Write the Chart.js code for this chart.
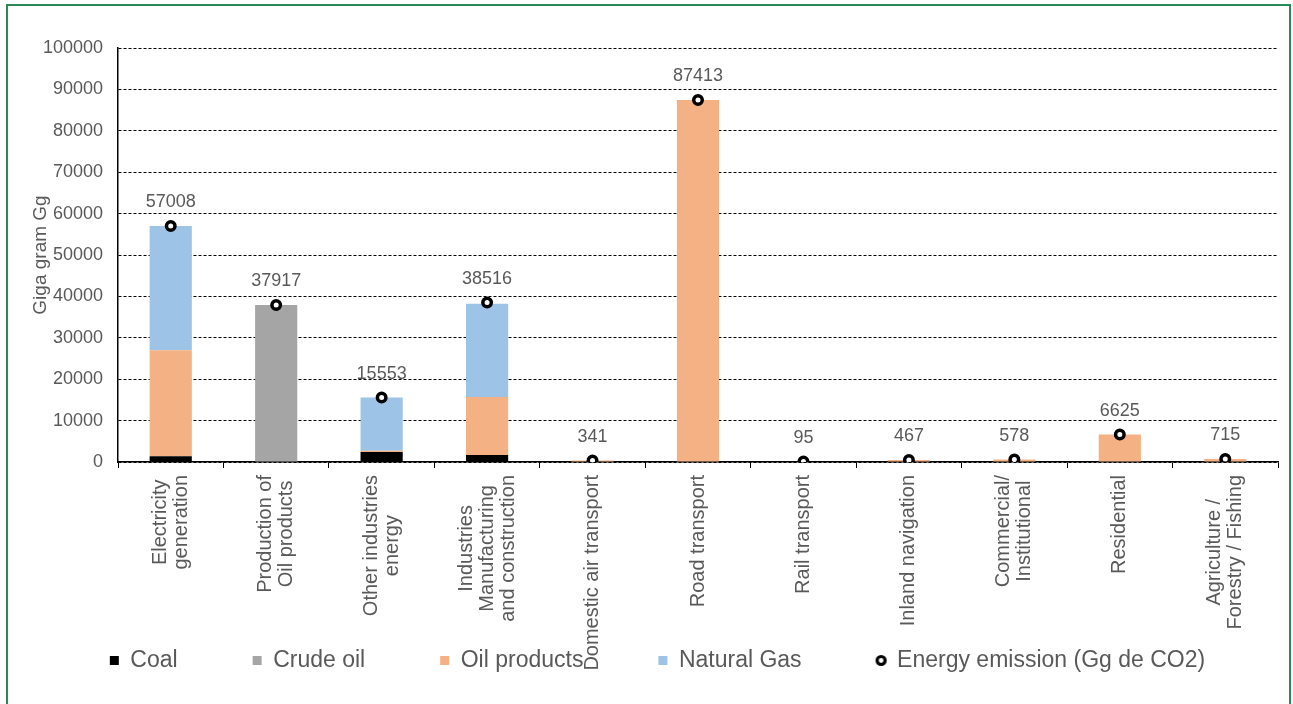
<!DOCTYPE html>
<html lang="en">
<head>
    <meta charset="UTF-8">
    <title>Energy emission by sector</title>
    <script src="https://cdn.jsdelivr.net/npm/chart.js"></script>
    <style>
        body {
            margin: 0;
            background: #ffffff;
            font-family: "Liberation Sans", Arial, sans-serif;
        }

        .wrap {
            position: relative;
            width: 1293px;
            height: 704px;
            overflow: hidden;
        }

        .frame {
            position: absolute;
            left: 6px;
            top: 4px;
            width: 1281px;
            height: 740px;
            border: 2px solid #2a8a55;
            pointer-events: none;
        }
    </style>
</head>
<body>
    <div class="wrap">
        <canvas id="chart"></canvas>
        <div class="frame"></div>
    </div>

    <script>
        const categories = [
            ['Electricity', 'generation'],
            ['Production of', 'Oil products'],
            ['Other industries', 'energy'],
            ['Industries', 'Manufacturing', 'and construction'],
            ['Domestic air transport'],
            ['Road transport'],
            ['Rail transport'],
            ['Inland navigation'],
            ['Commercial/', 'Institutional'],
            ['Residential'],
            ['Agriculture /', 'Forestry / Fishing']
        ];

        const coal        = [1400, 0, 2400, 1700, 0, 0, 0, 0, 0, 0, 0];
        const crudeOil    = [0, 37917, 0, 0, 0, 0, 0, 0, 0, 0, 0];
        const oilProducts = [25600, 0, 300, 14000, 341, 87413, 95, 467, 578, 6625, 715];
        const naturalGas  = [30000, 0, 12850, 22500, 0, 0, 0, 0, 0, 0, 0];
        const emission    = [57008, 37917, 15553, 38516, 341, 87413, 95, 467, 578, 6625, 715];

        const textColor = '#595959';
        const fontFamily = '"Liberation Sans", Arial, sans-serif';

        // small ring used as the legend marker of the emission series
        const ring = document.createElement('canvas');
        ring.width = 13;
        ring.height = 13;
        const rctx = ring.getContext('2d');
        rctx.lineWidth = 3.2;
        rctx.strokeStyle = '#000000';
        rctx.fillStyle = '#ffffff';
        rctx.beginPath();
        rctx.arc(6.5, 6.5, 4, 0, Math.PI * 2);
        rctx.fill();
        rctx.stroke();

        // values above the emission markers
        const valueLabels = {
            id: 'valueLabels',
            afterDatasetsDraw(chart) {
                const meta = chart.getDatasetMeta(4);
                const ctx = chart.ctx;
                ctx.save();
                ctx.fillStyle = textColor;
                ctx.font = '18px ' + fontFamily;
                ctx.textAlign = 'center';
                ctx.textBaseline = 'middle';
                meta.data.forEach((pt, i) => {
                    ctx.fillText(String(emission[i]), pt.x, pt.y - 24);
                });
                ctx.restore();
            }
        };

        // rotated category labels, lines centred on each other
        const categoryLabels = {
            id: 'categoryLabels',
            afterDraw(chart) {
                const xs = chart.scales.x;
                const ctx = chart.ctx;
                const top = chart.chartArea.bottom + 13;
                const lh = 21;
                ctx.save();
                ctx.fillStyle = textColor;
                ctx.font = '20px ' + fontFamily;
                ctx.textAlign = 'center';
                ctx.textBaseline = 'middle';
                categories.forEach((lines, i) => {
                    const cx = xs.getPixelForValue(i);
                    const maxW = Math.max(...lines.map(l => ctx.measureText(l).width));
                    ctx.save();
                    ctx.translate(cx, top + maxW / 2);
                    ctx.rotate(-Math.PI / 2);
                    lines.forEach((l, j) => {
                        ctx.fillText(l, 0, (j - (lines.length - 1) / 2) * lh);
                    });
                    ctx.restore();
                });
                ctx.restore();
            }
        };

        new Chart(document.getElementById('chart'), {
            type: 'bar',
            data: {
                labels: categories.map(c => c.join(' ')),
                datasets: [
                    { label: 'Coal', data: coal, backgroundColor: '#000000', pointStyle: 'rect', order: 1 },
                    { label: 'Crude oil', data: crudeOil, backgroundColor: '#a5a5a5', pointStyle: 'rect', order: 1 },
                    { label: 'Oil products', data: oilProducts, backgroundColor: '#f4b183', pointStyle: 'rect', order: 1 },
                    { label: 'Natural Gas', data: naturalGas, backgroundColor: '#9dc3e6', pointStyle: 'rect', order: 1 },
                    {
                        type: 'line',
                        label: 'Energy emission (Gg de CO2)',
                        data: emission,
                        stack: 'emission',
                        showLine: false,
                        pointStyle: 'circle',
                        pointRadius: 4.25,
                        pointBorderWidth: 3.5,
                        pointBackgroundColor: '#ffffff',
                        pointBorderColor: '#000000',
                        backgroundColor: '#ffffff',
                        borderColor: '#000000',
                        borderWidth: 3,
                        order: 0
                    }
                ]
            },
            options: {
                responsive: true,
                maintainAspectRatio: false,
                animation: false,
                layout: {
                    padding: { top: 48, right: 0, bottom: 22, left: 22 }
                },
                datasets: {
                    bar: { categoryPercentage: 1, barPercentage: 0.4 }
                },
                plugins: {
                    tooltip: { enabled: false },
                    legend: {
                        position: 'bottom',
                        labels: {
                            color: textColor,
                            font: { family: fontFamily, size: 23 },
                            usePointStyle: true,
                            boxWidth: 9,
                            boxHeight: 9,
                            padding: 75,
                            sort: (a, b) => a.datasetIndex - b.datasetIndex,
                            generateLabels: (chart) => {
                                const items = Chart.defaults.plugins.legend.labels.generateLabels(chart);
                                items.forEach(it => {
                                    if (it.datasetIndex === 4) it.pointStyle = ring;
                                });
                                return items;
                            }
                        }
                    }
                },
                scales: {
                    x: {
                        stacked: true,
                        grid: {
                            drawOnChartArea: false,
                            drawTicks: true,
                            tickLength: 6,
                            color: '#000000'
                        },
                        border: { color: '#000000', width: 1.5 },
                        ticks: { display: false },
                        afterFit: (s) => { s.height = 112; }
                    },
                    y: {
                        stacked: true,
                        min: 0,
                        max: 100000,
                        ticks: {
                            stepSize: 10000,
                            color: textColor,
                            padding: 15,
                            font: { family: fontFamily, size: 18 },
                            callback: (v) => String(v)
                        },
                        grid: {
                            color: '#000000',
                            drawTicks: false
                        },
                        border: { color: '#000000', width: 1.5, dash: [3, 2] },
                        title: {
                            display: true,
                            text: 'Giga gram Gg',
                            color: textColor,
                            font: { family: fontFamily, size: 19 },
                            padding: { top: 7, bottom: 0 }
                        },
                        afterFit: (s) => { s.width = 96; }
                    },
                    // empty right-hand spacer so the plot stops short of the frame
                    yRight: {
                        position: 'right',
                        grid: { display: false, drawTicks: false },
                        border: { display: false },
                        ticks: { display: false },
                        afterFit: (s) => { s.width = 15; }
                    }
                }
            },
            plugins: [valueLabels, categoryLabels]
        });
    </script>
</body>
</html>
